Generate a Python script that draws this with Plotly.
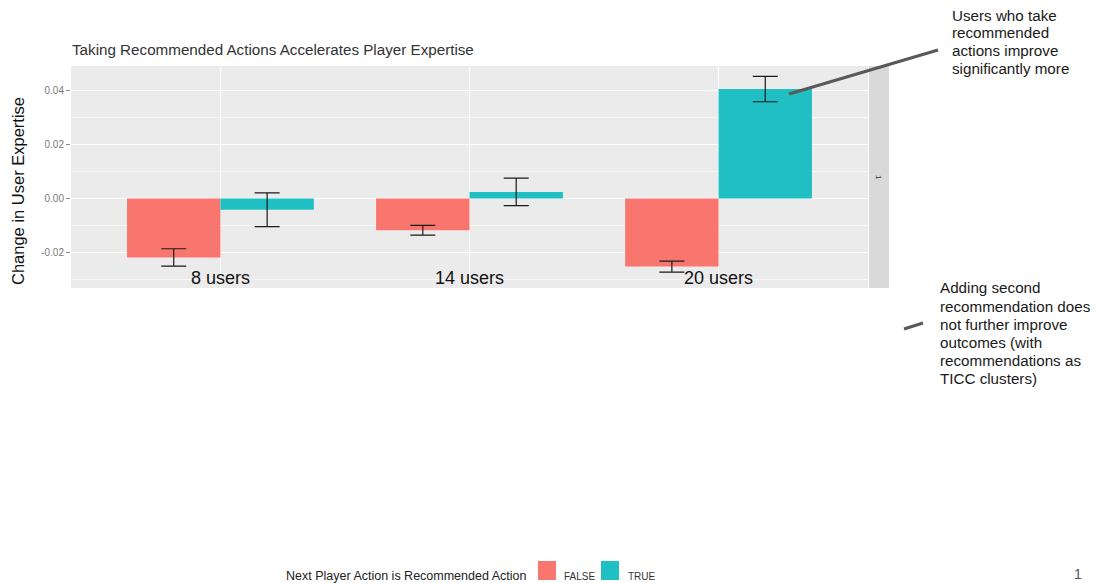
import plotly.graph_objects as go

# Data
groups = ["8 users", "14 users", "20 users"]
group_pos = [1, 2, 3]
false_vals = [-0.0218, -0.0118, -0.0252]
false_err = [0.0032, 0.0018, 0.0020]
true_vals = [-0.0042, 0.0024, 0.0404]
true_err = [0.0062, 0.0051, 0.0047]
y_ticks = [-0.02, 0.0, 0.02, 0.04]
y_tick_labels = ["-0.02", "0.00", "0.02", "0.04"]
y_minor = [-0.03, -0.01, 0.01, 0.03]

note_top = ["Users who take", "recommended", "actions improve", "significantly more"]
note_bottom = ["Adding second", "recommendation does", "not further improve",
               "outcomes (with", "recommendations as", "TICC clusters)"]

W, H = 1096, 583
RED = "#F8766D"
TEAL = "#1FBFC4"
FONT = "Liberation Sans, Arial, sans-serif"


def px(x):
    return x / W


def py(y):
    return 1 - y / H


# panel geometry (pixels)
PL, PR, PT, PB = 71, 868, 66, 288

fig = go.Figure()
fig.add_trace(go.Bar(
    x=group_pos, y=false_vals, name="FALSE", marker=dict(color=RED, line=dict(width=0)),
    error_y=dict(type="data", array=false_err, color="#1a1a1a", thickness=1.2, width=12.5),
    showlegend=False,
))
fig.add_trace(go.Bar(
    x=group_pos, y=true_vals, name="TRUE", marker=dict(color=TEAL, line=dict(width=0)),
    error_y=dict(type="data", array=true_err, color="#1a1a1a", thickness=1.2, width=12.5),
    showlegend=False,
))

fig.update_layout(
    width=W, height=H,
    margin=dict(l=0, r=0, t=0, b=0),
    paper_bgcolor="white",
    plot_bgcolor="#EBEBEB",
    barmode="group", bargap=0.25, bargroupgap=0,
    font=dict(family=FONT, color="#222"),
    xaxis=dict(
        domain=[px(PL), px(PR)], range=[0.4, 3.6],
        tickvals=group_pos, showticklabels=False, ticks="",
        showgrid=True, gridcolor="white", gridwidth=1.2, zeroline=False,
    ),
    yaxis=dict(
        domain=[py(PB), py(PT)], range=[-0.0331, 0.0489],
        tickvals=y_ticks, ticktext=y_tick_labels,
        tickfont=dict(size=10, color="#7a7a7a"),
        ticks="outside", ticklen=4, tickcolor="#888", tickwidth=1,
        showgrid=True, gridcolor="white", gridwidth=1.2, zeroline=False,
        minor=dict(tickvals=y_minor, showgrid=True, gridcolor="#F6F6F6", gridwidth=0.6, ticks=""),
    ),
)

annotations = []
shapes = []

# title
annotations.append(dict(
    text="Taking Recommended Actions Accelerates Player Expertise",
    xref="paper", yref="paper", x=px(70), y=py(50), xanchor="left", yanchor="middle",
    showarrow=False, font=dict(size=15.2, color="#333"),
))

# y axis title
annotations.append(dict(
    text="Change in User Expertise", textangle=-90,
    xref="paper", yref="paper", x=px(18), y=py(191), xanchor="center", yanchor="middle",
    showarrow=False, font=dict(size=16.5, color="#111"),
))

# group labels along the bottom of the panel
for g, xpos in zip(groups, group_pos):
    annotations.append(dict(
        text=g, xref="x", yref="paper", x=xpos, y=py(278),
        xanchor="center", yanchor="middle", showarrow=False,
        font=dict(size=18, color="#111"),
    ))

# facet strip on the right
shapes.append(dict(type="rect", xref="paper", yref="paper",
                   x0=px(869), x1=px(889), y0=py(PB), y1=py(PT),
                   fillcolor="#D9D9D9", line=dict(width=0), layer="below"))
annotations.append(dict(
    text="1", textangle=90, xref="paper", yref="paper", x=px(879), y=py(177),
    xanchor="center", yanchor="middle", showarrow=False,
    font=dict(size=8, color="#333"),
))

# callouts, one line per annotation for tighter leading
for i, line in enumerate(note_top):
    annotations.append(dict(
        text=line, xref="paper", yref="paper", x=px(950), y=py(15 + 17.8 * i),
        xanchor="left", yanchor="middle", showarrow=False,
        font=dict(size=15.2, color="#1a1a1a"),
    ))
shapes.append(dict(type="line", xref="paper", yref="paper",
                   x0=px(789), y0=py(94), x1=px(938), y1=py(50),
                   line=dict(color="#595959", width=3)))

for i, line in enumerate(note_bottom):
    annotations.append(dict(
        text=line, xref="paper", yref="paper", x=px(938), y=py(288 + 18 * i),
        xanchor="left", yanchor="middle", showarrow=False,
        font=dict(size=15.2, color="#1a1a1a"),
    ))
shapes.append(dict(type="line", xref="paper", yref="paper",
                   x0=px(904), y0=py(329), x1=px(923), y1=py(323),
                   line=dict(color="#595959", width=3)))

# legend drawn along the bottom
annotations.append(dict(
    text="Next Player Action is Recommended Action",
    xref="paper", yref="paper", x=px(284), y=py(576), xanchor="left", yanchor="middle",
    showarrow=False, font=dict(size=12.5, color="#222"),
))
for label, color, sx, tx in [("FALSE", RED, 538, 562), ("TRUE", TEAL, 601, 626)]:
    shapes.append(dict(type="rect", xref="paper", yref="paper",
                       x0=px(sx), x1=px(sx + 18), y0=py(580), y1=py(561),
                       fillcolor=color, line=dict(width=0)))
    annotations.append(dict(
        text=label, xref="paper", yref="paper", x=px(tx), y=py(576),
        xanchor="left", yanchor="middle", showarrow=False,
        font=dict(size=10, color="#333"),
    ))

# page number
annotations.append(dict(
    text="1", xref="paper", yref="paper", x=px(1078), y=py(574),
    xanchor="center", yanchor="middle", showarrow=False,
    font=dict(size=14, color="#555"),
))

fig.update_layout(annotations=annotations, shapes=shapes)
fig.write_html("out.html")
